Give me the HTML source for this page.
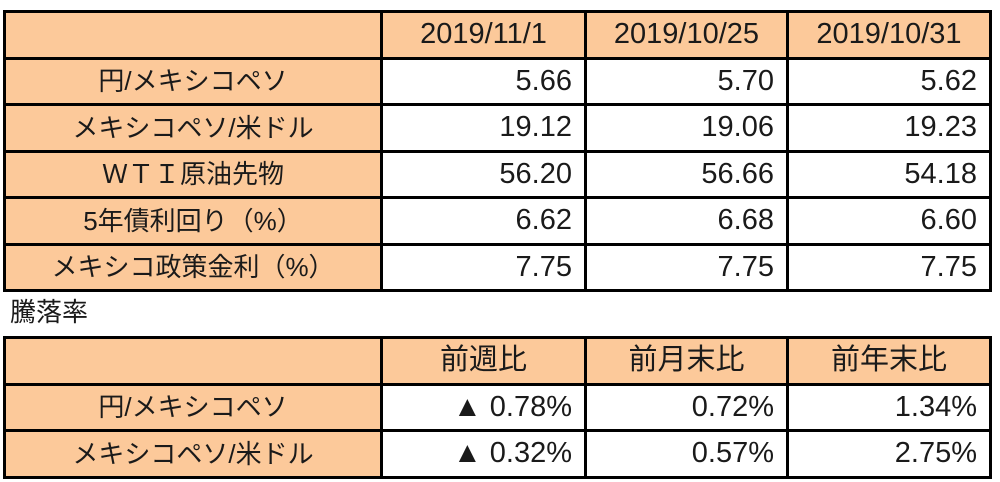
<!DOCTYPE html>
<html><head><meta charset="utf-8"><style>
body{margin:0;width:1000px;height:482px;background:#fff;position:relative;overflow:hidden;font-family:"Liberation Sans","Noto Sans CJK JP",sans-serif;color:#1a1a1a}
table{position:absolute;left:3px;border-collapse:collapse;table-layout:fixed}
td{border:3px solid #000;padding:0 12px 0 8px;font-size:29px;line-height:1;white-space:nowrap;overflow:hidden;height:46.5px;box-sizing:border-box}
td.h{background:#fcc99a;text-align:center;padding:0}
td.h:first-child{font-size:26px}
td.n{background:#fff;text-align:right}
#t1{top:10px}
#t2{top:336px}
.lbl{position:absolute;left:10px;top:299px;font-size:26px;line-height:1}
</style></head><body>
<table id="t1">
<colgroup><col style="width:377px"><col style="width:204px"><col style="width:202px"><col style="width:203px"></colgroup>
<tr><td class="h"></td><td class="h">2019/11/1</td><td class="h">2019/10/25</td><td class="h">2019/10/31</td></tr>
<tr><td class="h">円/メキシコペソ</td><td class="n">5.66</td><td class="n">5.70</td><td class="n">5.62</td></tr>
<tr><td class="h">メキシコペソ/米ドル</td><td class="n">19.12</td><td class="n">19.06</td><td class="n">19.23</td></tr>
<tr><td class="h">ＷＴＩ原油先物</td><td class="n">56.20</td><td class="n">56.66</td><td class="n">54.18</td></tr>
<tr><td class="h">5年債利回り（%）</td><td class="n">6.62</td><td class="n">6.68</td><td class="n">6.60</td></tr>
<tr><td class="h">メキシコ政策金利（%）</td><td class="n">7.75</td><td class="n">7.75</td><td class="n">7.75</td></tr>
</table>
<div class="lbl">騰落率</div>
<table id="t2">
<colgroup><col style="width:377px"><col style="width:204px"><col style="width:202px"><col style="width:203px"></colgroup>
<tr><td class="h"></td><td class="h">前週比</td><td class="h">前月末比</td><td class="h">前年末比</td></tr>
<tr><td class="h">円/メキシコペソ</td><td class="n">▲ 0.78%</td><td class="n">0.72%</td><td class="n">1.34%</td></tr>
<tr><td class="h">メキシコペソ/米ドル</td><td class="n">▲ 0.32%</td><td class="n">0.57%</td><td class="n">2.75%</td></tr>
</table>
</body></html>
